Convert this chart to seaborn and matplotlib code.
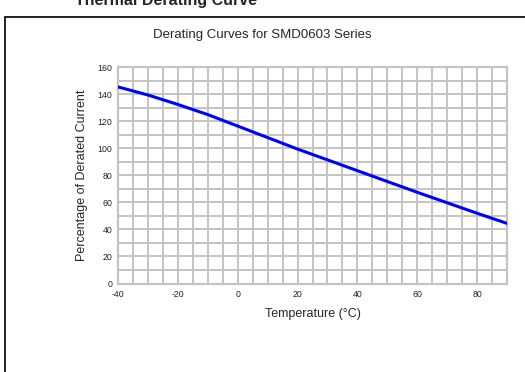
import matplotlib
matplotlib.use("Agg")
import seaborn as sns
import pandas as pd
from matplotlib import pyplot as plt
from matplotlib.patches import Rectangle

# data
temperature = [-40, -30, -20, -10, 0, 20, 40, 60, 80, 90]
derated_pct = [145.5, 139.5, 132.5, 125.0, 116.5, 99.5, 83.5, 67.5, 52.0, 44.5]
x_ticks = [-40, -20, 0, 20, 40, 60, 80]
y_ticks = [0, 20, 40, 60, 80, 100, 120, 140, 160]

df = pd.DataFrame({'Temperature': temperature, 'Percent': derated_pct})

sns.set_style('white')
plt.rcParams['font.family'] = ['Liberation Sans', 'DejaVu Sans']
plt.rcParams['axes.unicode_minus'] = False

fig = plt.figure(figsize=(5.25, 3.72), dpi=100)
ax = fig.add_axes([0.2248, 0.2379, 0.7409, 0.5812])

g = sns.lineplot(data=df, x='Temperature', y='Percent', ax=ax,
                 color='#0000ff', linewidth=2.2, zorder=3)

g.set_xlim(-40, 90)
g.set_ylim(0, 160)
g.set_xticks(x_ticks)
g.set_yticks(y_ticks)
g.xaxis.set_minor_locator(plt.MultipleLocator(5))
g.yaxis.set_minor_locator(plt.MultipleLocator(10))
g.grid(True, which='both', color='#c4c4c4', linewidth=1.4)
g.set_axisbelow(True)
g.tick_params(which='both', length=0, labelsize=6.3, colors='#222222')
g.tick_params(axis='x', pad=5)
g.tick_params(axis='y', pad=4)
for s in g.spines.values():
    s.set_color('#c4c4c4')
    s.set_linewidth(1.6)

g.set_xlabel('Temperature (°C)', fontsize=9, labelpad=6)
g.set_ylabel('Percentage of Derated Current', fontsize=9, labelpad=7)

fig.text(0.5, 1 - 35 / 372, 'Derating Curves for SMD0603 Series',
         ha='center', va='center', fontsize=9.5)

# frame of the surrounding box (cropped screenshot)
fig.patches.append(Rectangle((5 / 525, -0.1), 1.2, 1 - 17 / 372 + 0.1,
                             transform=fig.transFigure, fill=False,
                             edgecolor='#111111', linewidth=1.3))
fig.text(257 / 525, 1 - 5 / 372, 'Thermal Derating Curve', ha='right',
         va='baseline', fontsize=11.5, fontweight='bold')

fig.savefig('out.png', dpi=100)
